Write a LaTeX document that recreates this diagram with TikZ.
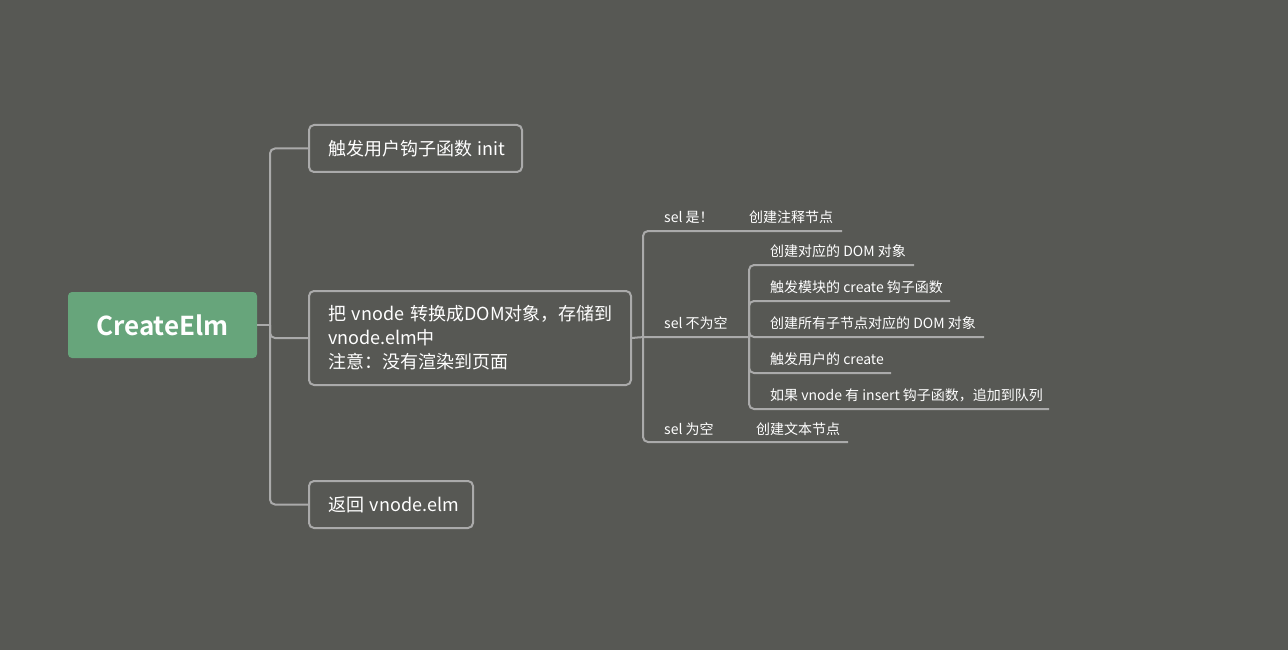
\documentclass[tikz,border=0pt]{standalone}
\usepackage{fontspec}
\setmainfont{Noto Sans CJK SC}[BoldFont={Noto Sans CJK SC Bold}]
\usepackage{tikz}
\definecolor{bg}{RGB}{87,88,84}
\definecolor{rootgreen}{RGB}{103,165,123}
\definecolor{edge}{RGB}{170,170,170}
\newcommand{\drawedge}{\draw[edge, line width=2pt, rounded corners=5pt]}
\tikzset{
  rootbox/.style={fill=rootgreen, rounded corners=4pt, text=white, inner sep=0pt,
    minimum width=189pt, minimum height=66pt, font=\fontsize{26}{30}\selectfont\bfseries},
  topic/.style={draw=edge, line width=2pt, rounded corners=5pt, text=white, anchor=north west,
    inner xsep=19pt, inner ysep=4pt, align=left, font=\fontsize{18}{24}\selectfont},
  leaf/.style={text=white, anchor=west, inner sep=0pt, font=\fontsize{14}{16}\selectfont}
}

\begin{document}
\begin{tikzpicture}[x=1pt, y=-1pt]
\fill[bg] (0,0) rectangle (1288,650);
\useasboundingbox (0,0) rectangle (1288,650);
% main topics
\node[rootbox] (elm) at (162.5,325) {CreateElm};
\node[topic, text width=175pt, minimum height=47pt] (init) at (308,124) {\mbox{触发用户钩子函数 init}};
\node[topic, text width=284pt, minimum height=94pt] (conv) at (308,290) {\mbox{把 vnode 转换成DOM对象，存储到}\\\mbox{vnode.elm中}\\\mbox{注意：没有渲染到页面}};
\node[topic, text width=126pt, minimum height=47pt] (ret) at (308,480) {\mbox{返回 vnode.elm}};
\coordinate (j1) at (270,325);
\drawedge (elm.east) -- (j1);
\foreach \n in {init,conv,ret}{
  \drawedge (j1) |- (\n.west);
}
% sel branches
\coordinate (j2) at (643,337);
\coordinate (j3) at (749,337);
\drawedge (conv.east) -- (j2) -- (j3);
\node[leaf] (selbang) at (664,217) {sel 是！};
\node[leaf] (comment) at (749,217) {创建注释节点};
\coordinate (comment-end) at (842,231);
\drawedge (j2) |- (comment-end);
\node[leaf] (selfull) at (664,323) {sel 不为空};
\node[leaf] (selnone) at (664,429) {sel 为空};
\node[leaf] (text) at (756,429) {创建文本节点};
\coordinate (text-end) at (848,442);
\drawedge (j2) |- (text-end);
\foreach \n/\y/\e/\t in {dom/251/914/创建对应的 DOM 对象, mod/287/950/触发模块的 create 钩子函数,
    kids/323/984/创建所有子节点对应的 DOM 对象, user/359/891/触发用户的 create,
    queue/395/1049/如果 vnode 有 insert 钩子函数，追加到队列}{
  \node[leaf] (\n) at (770,\y) {\t};
  \coordinate (\n-end) at (\e,\y+14);
  \drawedge (j3) |- (\n-end);
}
\end{tikzpicture}
\end{document}
